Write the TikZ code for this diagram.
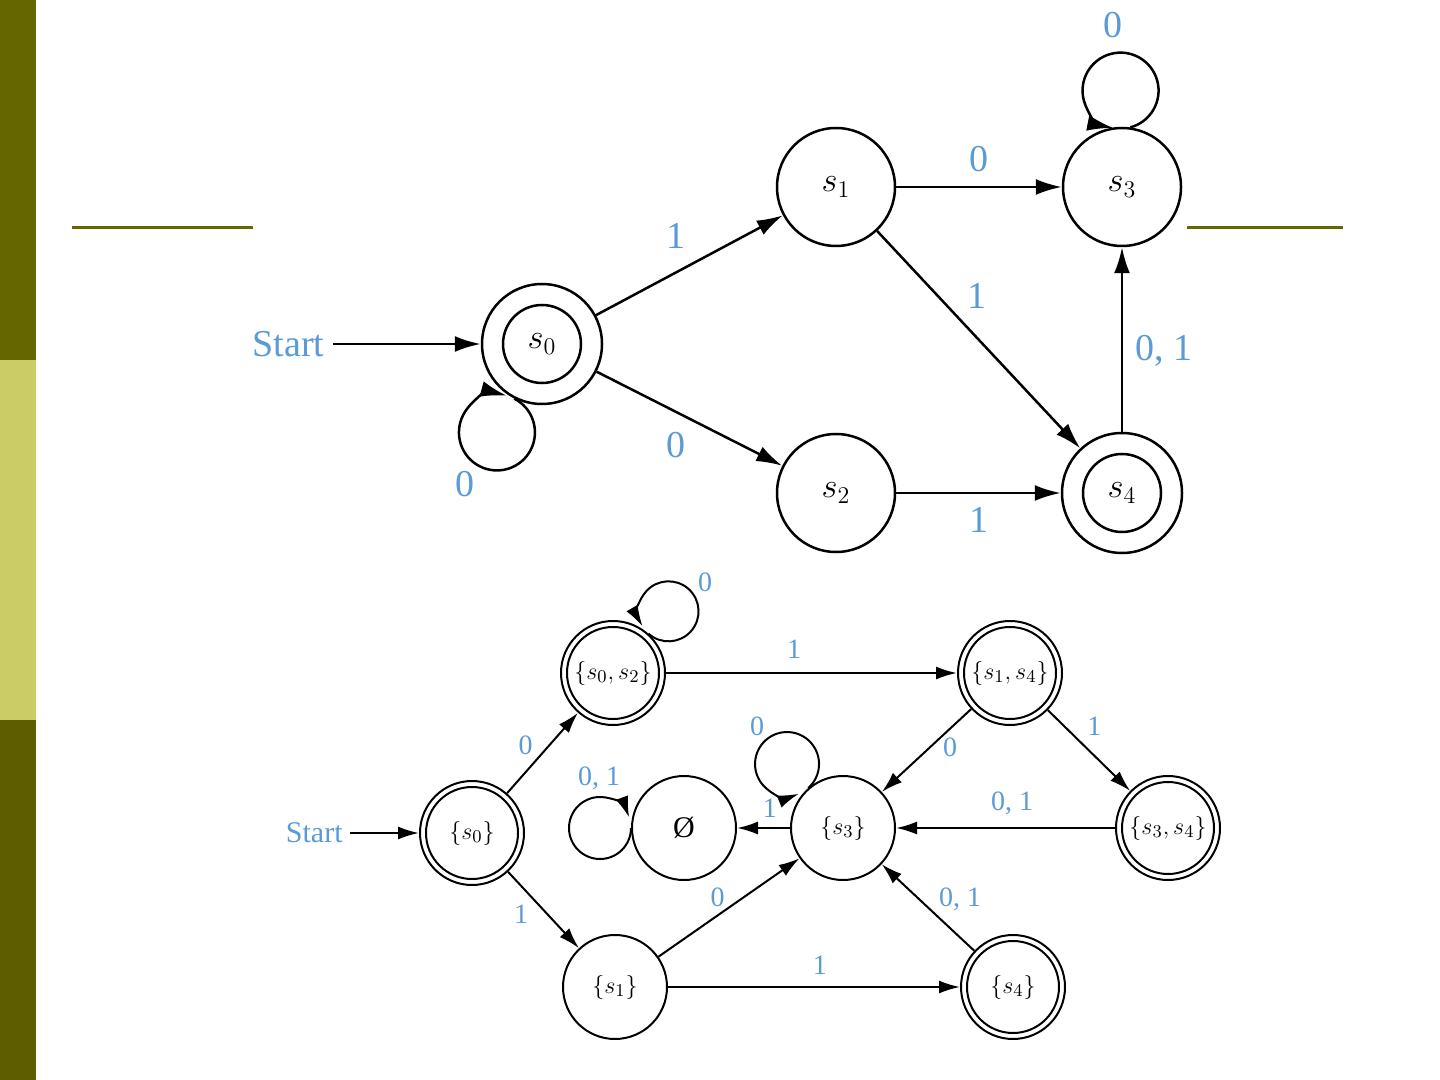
\documentclass[tikz,border=0pt]{standalone}
\usepackage{fontspec}
\setmainfont{Liberation Serif}
\usepackage{tikz}
\usetikzlibrary{positioning,arrows.meta}

\definecolor{lblblue}{RGB}{91,155,213}
\definecolor{olivedk}{RGB}{102,102,0}
\definecolor{olivelt}{RGB}{204,204,102}
\definecolor{olivebt}{RGB}{94,94,0}

\begin{document}
\begin{tikzpicture}[
  x=0.5pt, y=0.5pt,
  big/.style={circle,draw,line width=1.25pt,minimum size=59pt,inner sep=0pt,
              font=\fontsize{18}{20}\selectfont},
  bigacc/.style={big,minimum size=60pt,path picture={\draw[line width=1.25pt]
              (path picture bounding box.center) circle[radius=19.5pt];}},
  small/.style={circle,draw,line width=1pt,minimum size=52pt,inner sep=0pt,
              font=\fontsize{13}{15}\selectfont},
  smallacc/.style={small,path picture={\draw[line width=1pt]
              (path picture bounding box.center) circle[radius=23pt];}},
  lbl/.style={text=lblblue,inner sep=0pt,font=\fontsize{19}{22}\selectfont},
  slbl/.style={text=lblblue,inner sep=0pt,font=\fontsize{14}{16}\selectfont},
  arr/.style={-{Latex[length=13pt,width=8pt]},line width=1.25pt},
  sarr/.style={-{Latex[length=10.5pt,width=6.5pt]},line width=1pt}
]
\useasboundingbox (0,0) rectangle (1440,-1080);

% ---- slide frame ----
\fill[olivedk] (0,0) rectangle (36,-360);
\fill[olivelt] (0,-360) rectangle (36,-720);
\fill[olivebt] (0,-720) rectangle (36,-1080);
\draw[olivedk,line width=1.5pt] (72,-228) -- (253,-228);
\draw[olivedk,line width=1.5pt] (1187,-228) -- (1343,-228);

% ---- NDFA ----
\node[bigacc] (s0) at (542,-344) {$s_0$};
\node[big] (s1) at (836,-187) {$s_1$};
\node[big] (s2) at (836,-493) {$s_2$};
\node[big] (s3) at (1122,-187) {$s_3$};
\node[bigacc] (s4) at (1122,-493) {$s_4$};
\node[lbl,inner sep=4pt,left=74pt of s0] (start) {Start};

\draw[arr] (start) -- (s0);
\draw[arr] (s0) -- node[lbl,pos=0.43,above=11pt] {1} (s1);
\draw[arr] (s0) -- node[lbl,pos=0.43,below=9.5pt] {0} (s2);
\draw[arr] (s1) -- node[lbl,above=7pt] {0} (s3);
\draw[arr] (s1) -- node[lbl,pos=0.4,above right=5.5pt] {1} (s4);
\draw[arr] (s2) -- node[lbl,below=6.5pt] {1} (s4);
\draw[arr] (s4) -- node[lbl,pos=0.44,right=6pt] {0, 1} (s3);
\draw[arr] (s0.243) arc[start angle=63,delta angle=-348,radius=19pt];
\node[lbl,below=33pt,xshift=-38.5pt] (l0) at (s0.south) {0};
\draw[arr] (s3.82) arc[start angle=-75,delta angle=334,radius=19pt];
\node[lbl,above=44pt,xshift=-4.5pt] (l3) at (s3.north) {0};

% ---- DFA ----
\node[smallacc] (q0) at (472,-833) {$\{s_0\}$};
\node[smallacc] (q02) at (613,-673) {$\{s_0, s_2\}$};
\node[smallacc] (q14) at (1010,-673) {$\{s_1, s_4\}$};
\node[smallacc] (q34) at (1168,-828) {$\{s_3, s_4\}$};
\node[small,font=\fontsize{15}{18}\selectfont] (qe) at (684,-828) {Ø};
\node[small] (q3) at (843,-828) {$\{s_3\}$};
\node[small] (q1) at (615,-987) {$\{s_1\}$};
\node[smallacc] (q4) at (1013,-987) {$\{s_4\}$};
\node[slbl,font=\fontsize{15}{18}\selectfont,inner sep=3.5pt,left=34.5pt of q0] (startb) {Start};

\draw[sarr] (startb) -- (q0);
\draw[sarr] (q0) -- node[slbl,pos=0.6,left=8pt] {0} (q02);
\draw[sarr] (q0) -- node[slbl,pos=0.55,left=9pt] {1} (q1);
\draw[sarr] (q02) -- node[slbl,pos=0.44,above=7pt] {1} (q14);
\draw[sarr] (q02.48) arc[start angle=228,delta angle=342,radius=15pt];
\node[slbl,above=14pt,xshift=46pt] (lq02) at (q02.north) {0};
\draw[sarr] (q14) -- node[slbl,pos=0.46,right=6pt] {0} (q3);
\draw[sarr] (q14) -- node[slbl,pos=0.4,above right=4pt] {1} (q34);
\draw[sarr] (q34) -- node[slbl,pos=0.47,above=6pt] {0, 1} (q3);
\draw[sarr] (q3) -- node[slbl,pos=0.38,above=5pt] {1} (qe);
\draw[sarr] (q3.131.5) arc[start angle=311.5,delta angle=340,radius=16pt];
\node[slbl,above=19.5pt,xshift=-43pt] (lq3) at (q3.north) {0};
\draw[sarr] (qe.180) arc[start angle=0,delta angle=-340,radius=15.5pt];
\node[slbl,above=19pt,xshift=-16pt] (lqe) at (qe.west) {0, 1};
\draw[sarr] (q1) -- node[slbl,pos=0.42,above=4pt] {0} (q3);
\draw[sarr] (q1) -- node[slbl,pos=0.52,above=6pt] {1} (q4);
\draw[sarr] (q4) -- node[slbl,pos=0.42,above right=2pt] {0, 1} (q3);

\end{tikzpicture}
\end{document}
